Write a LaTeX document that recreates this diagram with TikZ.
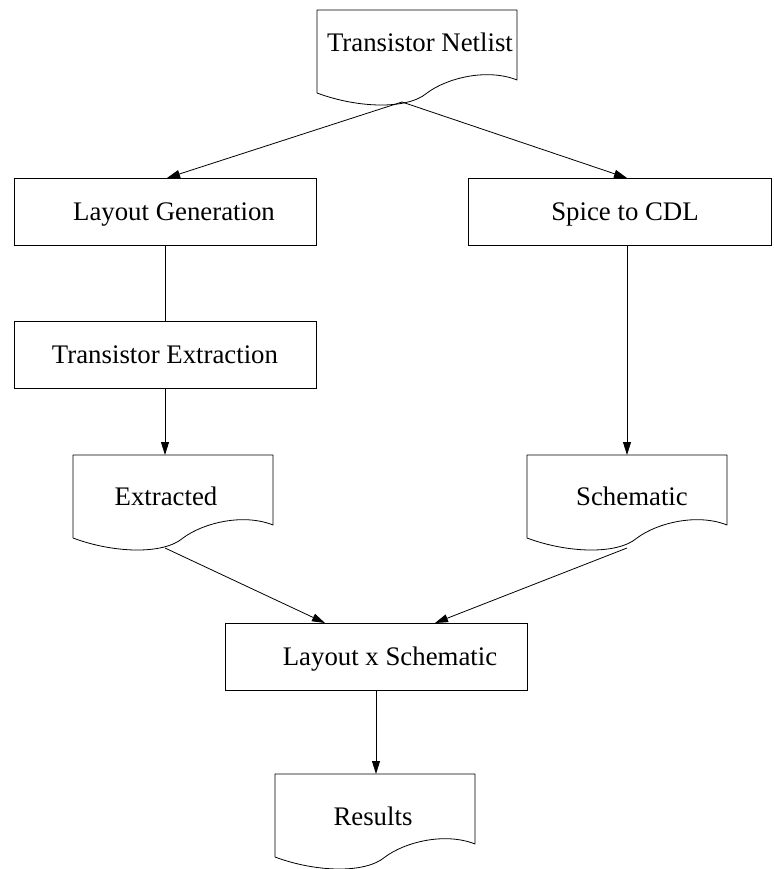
\documentclass[tikz,border=0pt]{standalone}
\usepackage{fontspec}
\setmainfont{Liberation Serif}
\usetikzlibrary{arrows.meta}
\begin{document}
\begin{tikzpicture}[x=1pt,y=-1pt,
  every node/.style={inner sep=0pt,outer sep=0pt},
  proc/.style={draw,line width=0.8pt,rectangle},
  docframe/.style={rectangle,minimum width=200pt,minimum height=83pt,anchor=north west},
  docline/.style={line width=0.8pt,line join=round},
  txt/.style={anchor=base,font=\fontsize{26.8pt}{30pt}\selectfont},
  arr/.style={line width=0.8pt,-{Triangle[length=13pt,width=8pt]}},
  link/.style={line width=0.8pt}]
\useasboundingbox (0,0) rectangle (773,869);

% document symbol: straight top and sides, wavy bottom edge
\newcommand{\docsym}[1]{%
  \draw[docline,shift={(#1.north west)}]
    (0,0) -- (0,83) .. controls (40,98) and (90,100) .. (110,83)
    .. controls (130,68) and (170,58) .. (200,70) -- (200,0) -- cycle;}

% documents
\node[docframe] (tn) at (317,10) {};
\docsym{tn}
\node[txt] (tn-t) at (420,52) {Transistor Netlist};

\node[docframe] (ex) at (73,455) {};
\docsym{ex}
\node[txt] (ex-t) at (166,505) {Extracted};

\node[docframe] (sc) at (527,455) {};
\docsym{sc}
\node[txt] (sc-t) at (632,505) {Schematic};

\node[docframe] (rs) at (275,774) {};
\docsym{rs}
\node[txt] (rs-t) at (373,825) {Results};

% process boxes
\node[proc,minimum width=302pt,minimum height=67pt] (lg) at (165,211.5) {};
\node[txt] (lg-t) at (174,220) {Layout Generation};

\node[proc,minimum width=302pt,minimum height=67pt] (te) at (165,354.5) {};
\node[txt] (te-t) at (165,363) {Transistor Extraction};

\node[proc,minimum width=303.5pt,minimum height=67pt] (sp) at (619.75,211.5) {};
\node[txt] (sp-t) at (625,220) {Spice to CDL};

\node[proc,minimum width=302pt,minimum height=67pt] (lx) at (376,656.5) {};
\node[txt] (lx-t) at (390,665) {Layout x Schematic};

% attachment points
\coordinate (tn-out) at (402,102);
\coordinate (ex-out) at (165,548);
\coordinate (sc-out) at (627,548);
\coordinate (lg-in) at (167,178);
\coordinate (sp-in) at (627,178);
\coordinate (lx-inl) at (325,623);
\coordinate (lx-inr) at (435,623);

% connectors
\draw[arr] (tn-out) -- (lg-in);
\draw[arr] (tn-out) -- (sp-in);
\draw[link] (lg.south) -- (te.north);
\draw[arr] (te.south) -- (te.south |- ex.north);
\draw[arr] (sp-in |- sp.south) -- (sp-in |- sc.north);
\draw[arr] (ex-out) -- (lx-inl);
\draw[arr] (sc-out) -- (lx-inr);
\draw[arr] (lx.south) -- (lx.south |- rs.north);
\end{tikzpicture}
\end{document}
